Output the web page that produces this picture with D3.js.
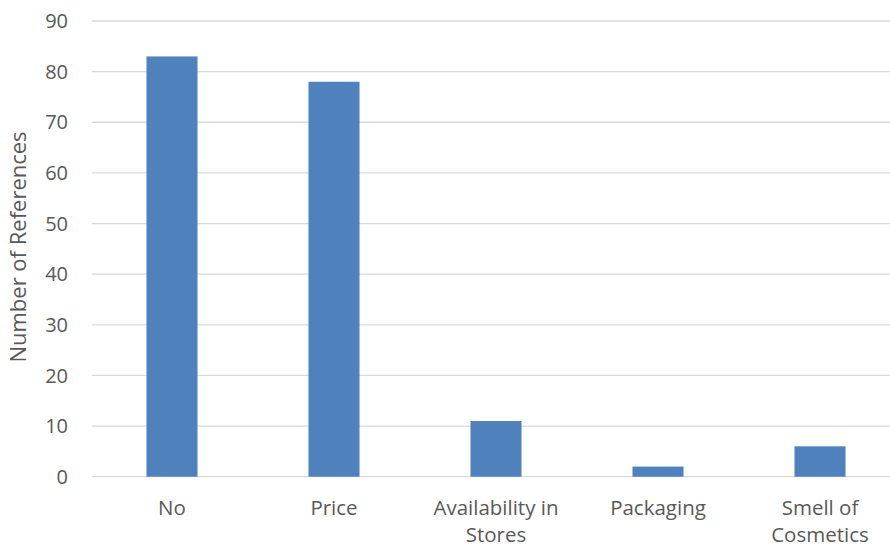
<!DOCTYPE html>
<html><head><meta charset="utf-8">
<script src="https://cdn.jsdelivr.net/npm/d3@7"></script>
<style>body{margin:0;background:#fff}svg{display:block}</style>
</head><body><svg id="c" width="890" height="549"></svg>
<script>
const categories = [["No"], ["Price"], ["Availability in", "Stores"], ["Packaging"], ["Smell of", "Cosmetics"]];
const values = [83, 78, 11, 2, 6];
const yTicks = [0, 10, 20, 30, 40, 50, 60, 70, 80, 90];
const yTitle = "Number of References";

const svg = d3.select("#c");
const m = {left: 91, right: 901, top: 21, bottom: 476.7};
const font = "'Open Sans', sans-serif";
const x = d3.scaleBand().domain(d3.range(categories.length)).range([m.left, m.right]).paddingInner(0.685).paddingOuter(0.3425);
const y = d3.scaleLinear().domain([0, 90]).range([m.bottom, m.top]);

svg.append("g").selectAll("line").data(yTicks).join("line")
  .attr("x1", 92).attr("x2", 890)
  .attr("y1", d => y(d)).attr("y2", d => y(d))
  .attr("stroke", "#d9d9d9").attr("stroke-width", 1.3);

svg.append("g").selectAll("text").data(yTicks).join("text")
  .attr("x", 68).attr("y", d => y(d)).attr("dy", "0.36em")
  .attr("text-anchor", "end").attr("font-family", font).attr("font-size", 20).attr("fill", "#595959")
  .text(d => d);

svg.append("g").selectAll("rect").data(values).join("rect")
  .attr("x", (d, i) => x(i)).attr("width", x.bandwidth())
  .attr("y", d => y(d)).attr("height", d => y(0) - y(d))
  .attr("fill", "#4f81bd");

const lab = svg.append("g").selectAll("text").data(categories).join("text")
  .attr("x", (d, i) => x(i) + x.bandwidth() / 2).attr("y", 515)
  .attr("text-anchor", "middle").attr("font-family", font).attr("font-size", 20.5).attr("fill", "#595959");
lab.selectAll("tspan").data(d => d).join("tspan")
  .attr("x", function() { return this.parentNode.getAttribute("x"); })
  .attr("dy", (d, i) => i === 0 ? 0 : 27).text(d => d);

svg.append("text").attr("transform", `translate(26,247) rotate(-90)`)
  .attr("text-anchor", "middle").attr("font-family", font).attr("font-size", 22).attr("fill", "#595959")
  .text(yTitle);
</script></body></html>
